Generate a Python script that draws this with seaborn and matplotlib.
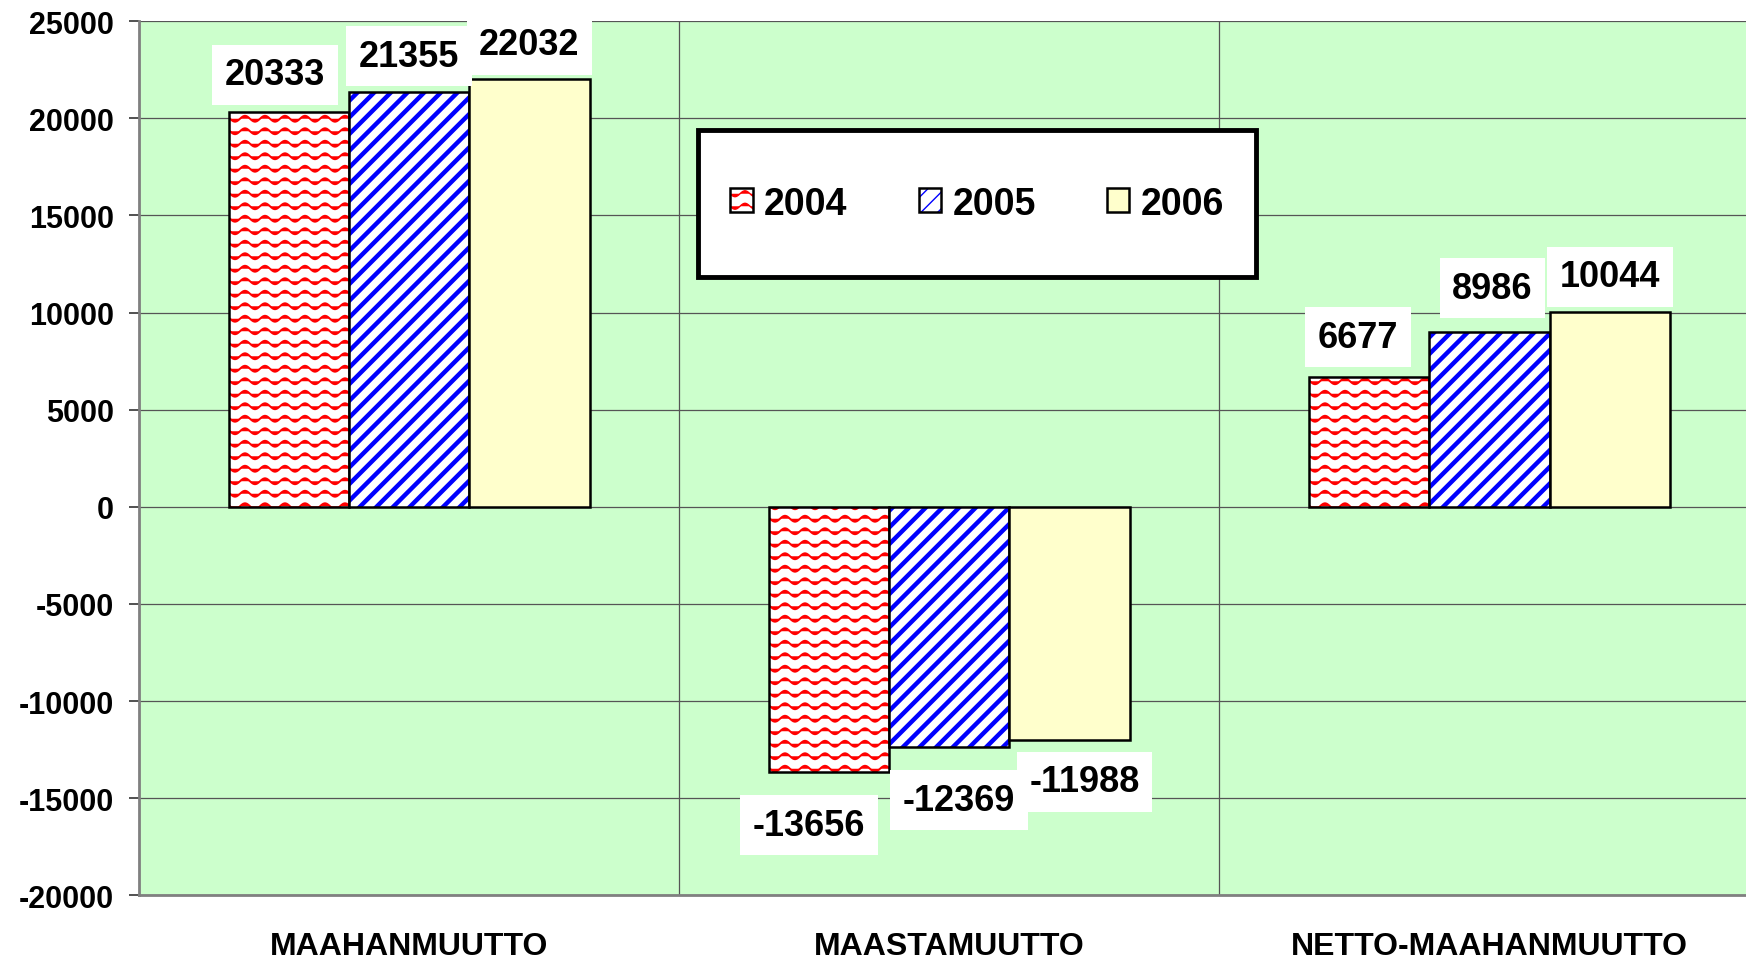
import warnings
import numpy as np
import pandas as pd
import seaborn as sns
import matplotlib
matplotlib.use("Agg")
import matplotlib.pyplot as plt
import matplotlib.colors as mcolors
from matplotlib import hatch as mhatch
from matplotlib.path import Path
from matplotlib.patches import Rectangle

warnings.filterwarnings("ignore")

# Data
categories = ["MAAHANMUUTTO", "MAASTAMUUTTO", "NETTO-MAAHANMUUTTO"]
years = ["2004", "2005", "2006"]
values_2004 = [20333, -13656, 6677]
values_2005 = [21355, -12369, 8986]
values_2006 = [22032, -11988, 10044]
y_ticks = [-20000, -15000, -10000, -5000, 0, 5000, 10000, 15000, 20000, 25000]

# Label nudges in pixels (dx, dy) per year, one per category
label_nudge = {
    "2004": [(-14, 37), (-20, -53), (-11, 40)],
    "2005": [(0, 36), (10, -53), (3, 44)],
    "2006": [(0, 34), (15, -42), (0, 35)],
}

# Bar styles: face colour, hatch, hatch colour, hatch width
bar_styles = {
    "2004": ("white", "~", "#FF0000", 1.4),
    "2005": ("white", "//", "#0000FF", 3.2),
    "2006": ("#FFFFCC", None, None, None),
}


# Wavy hatch pattern, used with "~"
class WaveHatch(mhatch.HatchPatternBase):
    def __init__(self, hatch, density):
        self.num_rows = 8 * hatch.count("~")
        self.num_pts = 61
        self.num_vertices = self.num_rows * self.num_pts

    def set_vertices_and_codes(self, vertices, codes):
        x = np.linspace(0, 1, self.num_pts)
        for i in range(self.num_rows):
            sl = slice(i * self.num_pts, (i + 1) * self.num_pts)
            vertices[sl, 0] = x
            vertices[sl, 1] = (i + 0.5) / self.num_rows + 0.03 * np.sin(2 * np.pi * 5 * x)
            codes[sl] = Path.LINETO
            codes[i * self.num_pts] = Path.MOVETO


mhatch._hatch_types.append(WaveHatch)

df = pd.DataFrame({
    "category": categories * 3,
    "year": [y for y in years for _ in categories],
    "value": values_2004 + values_2005 + values_2006,
})

plt.rcParams["font.family"] = ["Liberation Sans", "DejaVu Sans"]
plt.rcParams["font.weight"] = "bold"

fig = plt.figure(figsize=(17.46, 9.62), dpi=100)
ax = fig.add_axes([0.0797, 0.0683, 0.928, 0.9086])
ax.set_facecolor("#CCFFCC")

sns.barplot(data=df, x="category", y="value", hue="year", order=categories, hue_order=years,
            palette=[bar_styles[y][0] for y in years], saturation=1, width=0.668,
            edgecolor="black", linewidth=1.8, errorbar=None, legend=False, ax=ax)

# hatches and value labels
for year, bars in zip(years, ax.containers):
    face, hatch, hcolor, hlw = bar_styles[year]
    year_vals = df[df.year == year].value.tolist()
    for i, bar in enumerate(bars):
        if hatch is not None:
            bar.set_hatch(hatch)
            if hasattr(bar, "set_hatchcolor"):
                bar.set_hatchcolor(hcolor)
            else:
                bar._hatch_color = mcolors.to_rgba(hcolor)
            if hasattr(bar, "set_hatch_linewidth"):
                bar.set_hatch_linewidth(hlw)
        end = bar.get_y() + bar.get_height()
        dx, dy = label_nudge[year][i]
        ax.annotate(f"{year_vals[i]}",
                    xy=(bar.get_x() + bar.get_width() / 2, end),
                    xytext=(dx, dy), textcoords="offset pixels",
                    ha="center", va="center", fontsize=26, fontweight="bold",
                    bbox=dict(boxstyle="square,pad=0.35", facecolor="white", edgecolor="none"),
                    zorder=6)

ax.set_xlim(-0.5, 2.5)
ax.set_ylim(-20000, 25000)
ax.set_yticks(y_ticks)
ax.set_yticklabels([str(t) for t in y_ticks], fontsize=22, fontweight="bold")
ax.set_xticks([0.5, 1.5], minor=True)
ax.set_xlabel("")
ax.set_ylabel("")

ax.set_axisbelow(True)
ax.yaxis.grid(True, color="#555555", linewidth=0.9)
ax.xaxis.grid(True, which="minor", color="#555555", linewidth=0.9)
ax.xaxis.grid(False, which="major")

ax.tick_params(axis="x", which="both", length=0, pad=26, labelsize=23)
ax.tick_params(axis="y", length=7, width=1.2, color="#333333", pad=11)

for side in ["top", "right"]:
    ax.spines[side].set_visible(False)
for side in ["left", "bottom"]:
    ax.spines[side].set_color("#808080")
    ax.spines[side].set_linewidth(2)

# legend with its own box
ax.add_artist(Rectangle((0.3998, 0.711), 0.3196, 0.1528, transform=fig.transFigure,
                        facecolor="white", edgecolor="black", linewidth=3.5, zorder=4, clip_on=False))
ax.legend(ax.containers, years, loc="center", bbox_to_anchor=(0.5596, 0.7874),
          bbox_transform=fig.transFigure, ncol=3, frameon=False, fontsize=27,
          handlelength=0.6, handleheight=0.6, handletextpad=0.3, columnspacing=1.9)

plt.savefig("out.png", dpi=100)
